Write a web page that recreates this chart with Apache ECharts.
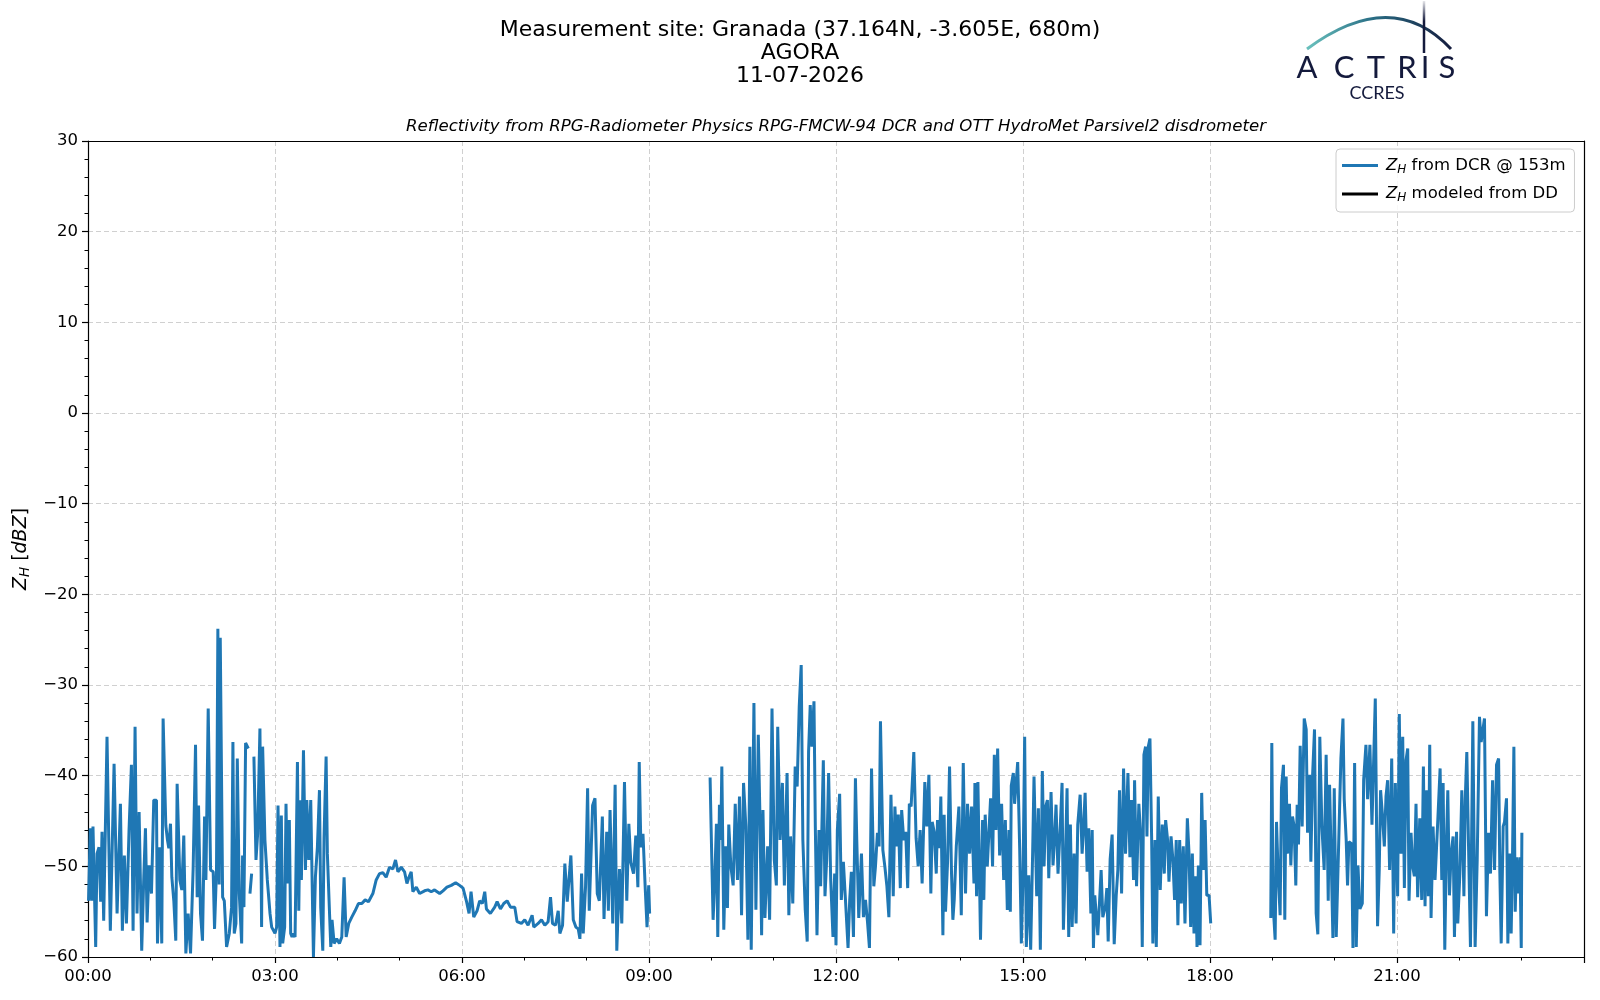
<!DOCTYPE html>
<html>
<head>
<meta charset="utf-8">
<script src="https://cdn.jsdelivr.net/npm/echarts@6/dist/echarts.min.js"></script>
<style>html,body{margin:0;padding:0;background:#fff}#c{width:1600px;height:1000px}</style>
</head>
<body>
<div id="c"></div>
<script>
// ---- Data (time in minutes after 00:00 UTC, reflectivity in dBZ) ----
const t1 = [0.5,2.2,3.5,4.8,7.4,8.7,10.6,12.2,13.5,15.1,
18.3,21.5,25.1,28.0,31.2,33.1,35.0,37.0,39.5,41.8,
43.4,45.3,47.2,49.2,51.7,53.7,55.3,56.9,58.8,61.1,
63.3,65.9,66.9,69.1,71.0,72.3,74.9,76.5,77.8,79.4,
80.7,82.6,84.5,85.8,88.4,90.3,92.2,94.2,96.4,98.7,
101.2,103.5,105.1,106.4,108.3,110.2,112.2,113.5,115.7,118.0,
120.5,121.8,123.7,125.0,126.3,127.3,129.6,131.2,133.4,136.0,
138.2,139.5,140.8,142.4,143.7,145.6,147.9,148.8,150.1,151.7,
154.3,155.0,155.9,157.5,158.5,159.7,161.7,163.3,165.5,167.1,
168.1,170.3,172.6,175.2,176.8,178.4,180.0,181.6,182.9,184.8,
186.1,187.4,189.3,190.6,191.9,193.8,195.1,196.4,197.7,199.3,
201.6,202.9,204.2,205.4,207.4,209.3,210.6,212.5,214.4,217.0,
218.9,220.8,222.8,224.0,226.0,227.2,229.2,230.4,232.4,233.7,
234.9,236.9,239.4,242.0,244.3,246.5,248.5,251.0,253.9,257.1,
260.3,263.6,266.8,270.0,274.2,277.4,280.6,283.8,287.0,290.2,
293.4,296.0,298.3,301.5,304.7,307.0,308.9,311.1,312.7,316.0,
319.2,324.0,327.2,330.4,333.6,338.5,341.7,345.5,349.7,353.9,
357.7,361.0,364.2,366.8,368.7,371.3,374.5,377.0,379.6,381.9,
383.5,387.3,391.5,393.8,397.0,400.2,403.4,406.7,410.8,413.0,
417.2,420.4,423.6,427.5,429.1,433.3,436.5,439.7,442.9,445.2,
447.1,450.0,452.6,454.2,456.8,459.0,461.3,464.8,467.1,469.6,
471.9,473.5,475.1,476.7,478.9,480.9,482.5,485.7,488.0,490.2,
492.2,495.1,496.7,499.3,500.9,502.5,505.1,507.4,509.0,511.6,
513.8,516.4,518.6,520.6,522.5,525.1,527.3,529.3,530.6,532.2,
534.2,536.4,538.1,539.7,540.6];
const z1 = [-53.8,-45.8,-53.8,-45.6,-58.9,-48.6,-47.9,-53.9,-46.2,-56.0,
-35.7,-57.1,-38.7,-55.2,-43.1,-57.1,-48.8,-56.3,-46.0,-38.8,
-57.1,-34.6,-55.2,-44.0,-59.3,-51.2,-45.8,-56.2,-49.9,-53.0,
-42.7,-42.7,-58.5,-47.9,-58.5,-33.7,-45.5,-47.1,-48.0,-45.3,
-51.2,-53.8,-58.2,-40.9,-51.5,-52.6,-46.6,-59.6,-55.2,-59.6,
-50.3,-36.6,-53.4,-43.3,-55.2,-58.2,-44.5,-51.5,-32.6,-50.4,
-50.6,-56.9,-50.4,-23.8,-52.0,-24.8,-53.4,-53.8,-58.9,-57.4,
-54.5,-36.3,-57.4,-56.3,-38.1,-53.0,-58.5,-48.8,-54.5,-36.4,
-37.0,null,-53.0,-50.8,null,-37.9,-49.3,-46.4,-34.8,-56.7,
-36.8,-47.1,-51.5,-55.2,-56.7,-56.5,-57.4,-56.7,-43.3,-58.9,
-44.4,-58.5,-56.7,-43.1,-51.9,-44.9,-57.4,-57.8,-57.4,-57.8,
-38.5,-54.9,-42.7,-51.5,-37.2,-50.4,-42.7,-49.3,-42.7,-60.0,
-51.2,-47.9,-41.6,-54.5,-59.3,-46.8,-37.9,-48.6,-54.9,-58.9,
-55.9,-58.5,-58.0,-58.5,-57.8,-51.2,-57.8,-56.3,-55.6,-54.9,
-54.1,-54.1,-53.7,-53.9,-53.0,-51.5,-50.8,-50.7,-51.2,-50.1,
-50.3,-49.3,-50.6,-50.1,-50.6,-51.9,-51.2,-50.6,-52.8,-52.3,
-53.0,-52.7,-52.6,-52.8,-52.6,-53.0,-52.7,-52.3,-52.1,-51.8,
-52.1,-52.4,-53.8,-55.2,-52.8,-55.6,-54.9,-53.8,-54.1,-52.8,
-54.7,-55.2,-54.5,-53.9,-54.7,-54.1,-53.8,-54.5,-54.5,-56.1,
-56.3,-55.9,-56.5,-55.4,-56.7,-56.3,-55.9,-56.5,-56.1,-53.4,
-56.3,-56.5,-54.9,-57.4,-56.5,-49.7,-53.9,-48.8,-55.9,-56.7,
-56.9,-58.0,-50.8,-57.4,-52.3,-41.4,-54.9,-43.3,-42.5,-53.0,
-53.8,-44.5,-55.8,-46.2,-54.9,-43.8,-56.3,-41.0,-59.3,-50.3,
-56.3,-40.7,-53.8,-45.3,-49.6,-50.8,-46.6,-52.3,-38.5,-47.9,
-46.4,-52.5,-56.7,-52.1,-55.2];

const t2 = [598.8,599.8,601.7,603.3,604.9,606.2,607.8,609.1,610.1,612.0,
613.9,615.5,616.8,618.8,621.0,623.0,625.2,627.1,629.1,631.0,
633.2,635.2,637.1,638.4,641.0,642.9,645.2,646.8,648.4,649.7,
651.6,654.2,656.1,658.4,660.6,662.6,663.9,666.2,668.4,670.3,
672.9,674.6,676.2,678.4,680.7,682.6,684.6,686.5,688.1,690.4,
692.3,693.6,695.2,696.8,698.8,700.1,701.7,703.6,705.2,707.8,
709.4,711.0,712.9,714.9,717.1,718.7,720.0,721.3,723.5,725.1,
727.1,729.3,731.6,733.2,734.8,736.8,738.7,740.0,741.9,744.5,
746.4,748.4,750.3,752.2,754.2,756.4,758.0,759.9,761.5,762.8,
765.1,767.0,769.0,770.9,772.9,775.1,776.7,778.4,780.0,781.9,
783.2,785.2,787.1,789.0,790.6,792.3,794.9,797.1,799.1,801.0,
802.9,805.5,807.4,809.4,811.3,812.6,814.5,816.5,817.7,819.6,
820.9,822.9,824.1,825.4,827.4,829.3,831.2,832.5,833.8,835.8,
838.3,840.6,842.5,844.7,846.6,848.6,850.5,852.8,853.7,855.3,
856.6,859.1,861.1,862.3,863.6,865.6,867.5,868.8,870.7,872.4,
874.0,875.6,877.5,879.4,881.4,883.0,884.9,886.5,887.8,888.7,
890.7,891.9,893.2,894.9,896.8,898.4,900.0,901.6,903.2,905.5,
907.4,909.3,910.6,913.2,914.8,916.7,918.6,920.3,921.9,923.5,
924.8,927.0,928.9,930.5,931.8,933.7,936.0,937.6,938.9,940.8,
942.4,944.0,945.6,947.3,949.2,951.1,952.7,955.0,956.9,958.2,
959.8,961.7,963.3,965.3,966.6,967.8,969.1,970.7,972.0,973.6,
975.2,976.8,979.4,980.7,982.0,983.9,985.8,987.8,989.7,991.3,
992.9,994.9,996.8,998.7,1001.0,1002.9,1004.5,1006.4,1007.4,1009.3,
1011.5,1013.5,1014.8,1016.4,1018.0,1019.3,1020.6,1022.2,1023.8,1025.0,
1027.0,1028.3,1030.2,1032.1,1034.1,1036.0,1037.3,1039.2,1040.5,1042.5,
1044.3,1045.9,1047.5,1049.1,1050.8,1052.4,1054.3,1055.9,1058.2,1059.8,
1061.4,1063.0,1064.6,1066.2,1067.5,1068.8,1070.4,1072.0,1073.6,1075.3,
1076.9,1079.1,1080.7];
const z2 = [-40.2,-45.8,-55.9,-51.5,-45.3,-57.8,-43.2,-47.1,-39.0,-57.0,
-47.8,-54.6,-45.4,-50.0,-52.1,-43.1,-51.5,-42.3,-55.4,-40.8,
-45.6,-58.1,-36.8,-59.2,-32.0,-54.8,-35.5,-44.5,-57.6,-43.8,
-55.7,-47.8,-55.9,-32.6,-49.3,-52.1,-34.6,-47.1,-40.8,-52.1,
-39.7,-55.4,-46.7,-54.1,-39.0,-41.2,-32.4,-27.8,-47.1,-54.8,
-58.3,-37.4,-32.2,-36.8,-31.8,-45.6,-57.6,-46.0,-52.2,-38.3,
-53.3,-49.3,-39.7,-51.5,-57.8,-50.8,-58.7,-46.0,-42.0,-53.7,
-49.5,-54.1,-59.0,-53.7,-50.6,-57.8,-40.3,-47.1,-55.7,-48.6,
-55.6,-53.7,-56.1,-59.0,-39.2,-52.2,-50.0,-46.3,-47.8,-34.0,
-48.2,-50.0,-52.2,-55.6,-42.1,-53.3,-43.4,-47.8,-44.3,-52.4,
-43.8,-47.1,-46.2,-52.4,-43.1,-43.4,-37.4,-46.9,-50.0,-46.0,
-51.9,-40.7,-45.6,-39.9,-53.0,-45.1,-46.2,-50.8,-44.9,-48.0,
-42.3,-57.6,-44.3,-55.0,-49.5,-39.0,-50.8,-55.9,-53.7,-47.8,
-43.4,-55.4,-38.6,-53.0,-43.1,-48.6,-43.4,-51.9,-40.8,-53.3,
-40.7,-58.1,-44.9,-53.7,-44.3,-50.0,-50.0,-42.5,-50.0,-37.7,
-46.0,-37.0,-48.8,-43.1,-51.5,-44.9,-54.8,-46.0,-55.0,-41.1,
-39.7,-43.1,-41.1,-38.5,-48.0,-58.5,-51.5,-35.7,-58.9,-51.0,
-59.2,-48.4,-40.1,-53.3,-43.6,-59.2,-39.5,-50.0,-43.4,-42.7,
-51.3,-41.8,-49.9,-46.7,-43.2,-50.8,-45.3,-40.8,-57.0,-49.3,
-41.4,-57.8,-45.4,-56.7,-48.6,-56.3,-45.4,-42.1,-48.6,-46.0,
-41.9,-50.6,-45.8,-55.2,-46.0,-59.0,-53.2,-55.6,-57.6,-54.1,
-50.4,-55.6,-54.4,-52.4,-58.3,-49.2,-46.5,-58.6,-53.3,-50.4,
-41.6,-53.0,-39.2,-48.6,-39.7,-49.0,-42.7,-51.5,-40.5,-52.2,
-43.1,-47.1,-58.9,-37.7,-36.8,-46.7,-36.8,-35.9,-46.7,-58.5,
-47.1,-58.9,-42.3,-52.6,-45.4,-50.8,-44.9,-47.1,-51.7,-46.7,
-49.3,-53.7,-47.1,-56.5,-47.1,-54.1,-47.8,-56.3,-44.7,-48.6,
-56.7,-48.6,-57.4,-51.1,-58.9,-49.9,-58.7,-41.9,-50.4,-44.9,
-53.2,-53.2,-56.3];

const t3 = [1138.5,1139.5,1140.7,1142.7,1144.0,1145.6,1147.5,1148.8,1150.7,1152.0,
1153.3,1154.6,1156.5,1157.8,1159.4,1161.0,1162.6,1163.9,1165.2,1166.8,
1168.7,1170.7,1172.6,1173.9,1175.8,1177.1,1178.7,1180.6,1182.2,1183.8,
1185.7,1187.7,1189.9,1191.8,1193.8,1195.1,1196.4,1198.3,1199.6,1201.5,
1202.8,1204.4,1206.0,1208.0,1209.2,1211.1,1212.4,1213.7,1216.3,1217.6,
1219.2,1220.8,1222.4,1224.3,1226.6,1227.9,1230.1,1231.7,1233.9,1235.9,
1237.5,1239.1,1241.3,1242.9,1244.2,1245.9,1247.8,1249.4,1251.0,1252.9,
1254.9,1256.8,1258.4,1260.6,1262.2,1263.9,1265.5,1267.1,1268.7,1270.3,
1271.6,1273.5,1275.1,1276.7,1278.3,1279.9,1281.9,1283.8,1285.4,1287.0,
1288.6,1290.2,1291.5,1292.8,1294.7,1296.6,1299.2,1301.5,1303.1,1304.4,
1306.0,1307.6,1308.9,1310.5,1312.1,1314.0,1315.3,1317.3,1318.5,1320.5,
1322.4,1324.4,1325.7,1327.2,1328.8,1330.7,1333.0,1335.2,1337.2,1339.4,
1341.0,1342.9,1344.2,1346.1,1348.1,1350.0,1352.0,1353.9,1355.8,1357.8,
1359.0,1360.3,1362.2,1363.5,1365.4,1366.7,1368.3,1369.9,1371.2,1372.5,
1373.8,1375.1,1376.4,1378.3,1379.6,1380.2];
const z3 = [-55.7,-36.4,-54.1,-58.1,-45.1,-50.8,-55.4,-41.4,-38.8,-55.9,
-40.1,-48.6,-43.1,-49.9,-44.5,-45.6,-52.1,-43.2,-47.6,-36.7,
-45.6,-33.7,-34.9,-46.3,-39.9,-49.5,-40.1,-34.9,-55.2,-57.5,
-35.7,-45.6,-50.4,-37.7,-53.8,-41.0,-47.8,-57.9,-41.4,-57.8,
-52.2,-45.1,-38.1,-33.7,-42.6,-47.1,-52.1,-47.3,-47.5,-59.0,
-38.6,-58.9,-49.9,-54.7,-54.1,-40.5,-36.6,-42.6,-36.6,-45.4,
-45.4,-31.5,-56.6,-50.4,-41.6,-44.2,-47.8,-42.3,-40.5,-50.4,
-38.1,-57.4,-40.8,-53.3,-33.2,-48.6,-35.7,-52.4,-38.3,-37.0,
-53.8,-46.3,-50.0,-51.1,-43.1,-53.4,-44.7,-53.7,-39.0,-54.4,
-41.6,-53.3,-36.6,-55.7,-45.6,-51.5,-45.1,-39.2,-51.5,-40.8,
-59.2,-47.5,-41.6,-53.2,-48.6,-46.7,-57.8,-46.2,-56.3,-50.8,
-41.6,-53.3,-42.6,-37.4,-47.4,-58.9,-34.0,-58.9,-49.3,-33.5,
-36.3,-36.3,-33.7,-55.5,-46.3,-50.8,-40.5,-50.4,-38.8,-38.1,
-50.8,-58.5,-45.6,-45.1,-42.5,-58.5,-48.6,-57.4,-48.8,-36.8,
-55.0,-49.0,-53.0,-49.0,-59.0,-46.3];

const xTickLabels = ['00:00','03:00','06:00','09:00','12:00','15:00','18:00','21:00'];
const yTicks = [-60,-50,-40,-30,-20,-10,0,10,20,30];
const titleLines = ['Measurement site: Granada (37.164N, -3.605E, 680m)', 'AGORA', '11-07-2026'];
const subTitle = 'Reflectivity from RPG-Radiometer Physics RPG-FMCW-94 DCR and OTT HydroMet Parsivel2 disdrometer';
const seriesNames = ['ZH from DCR @ 153m', 'ZH modeled from DD'];

// ---- build series data ----
function seg(t, z) { return t.map((v, i) => [v, z[i] === null ? '-' : z[i]]); }
const dcrData = [].concat(seg(t1, z1), [[570, '-']], seg(t2, z2), [[1110, '-']], seg(t3, z3));

const FONT = 'DejaVu Sans';
const chart = echarts.init(document.getElementById('c'), null, {renderer: 'canvas'});
const legendRich = {
  i: {fontFamily: FONT, fontStyle: 'italic', fontSize: 16.5, color: '#000'},
  s: {fontFamily: FONT, fontStyle: 'italic', fontSize: 12, color: '#000', padding: [8, 0, 0, 0]},
  n: {fontFamily: FONT, fontSize: 16.5, color: '#000'}
};
const xMin = 0, xMax = 1440;
const yMin = yTicks[0], yMax = yTicks[yTicks.length - 1];
const spine = {show: true, onZero: false, lineStyle: {color: '#000', width: 1.2}};
chart.setOption({
  animation: false,
  backgroundColor: '#fff',
  grid: {left: 88, right: 16, top: 141, bottom: 43},
  xAxis: [{
    type: 'value', min: xMin, max: xMax, interval: 180,
    axisLine: spine,
    axisTick: {show: true, length: 6, lineStyle: {color: '#000', width: 1.2}},
    minorTick: {show: true, splitNumber: 3, length: 3.5, lineStyle: {color: '#000', width: 1}},
    axisLabel: {
      margin: 11, color: '#000', fontFamily: FONT, fontSize: 16.5,
      formatter: v => { const i = Math.round(v / 180); return i < xTickLabels.length ? xTickLabels[i] : ''; }
    },
    splitLine: {show: true, lineStyle: {color: '#d0d0d0', type: [5, 3], width: 1}}
  }, {
    type: 'value', position: 'top', min: xMin, max: xMax, interval: 180,
    axisLine: spine, axisTick: {show: false}, axisLabel: {show: false}, splitLine: {show: false}
  }],
  yAxis: [{
    type: 'value', min: yMin, max: yMax, interval: 10,
    name: '{i|Z}{s|H}{n| [}{i|dBZ}{n|]}',
    nameLocation: 'middle', nameRotate: 90, nameGap: 50,
    nameTextStyle: {
      rich: {
        i: {fontFamily: FONT, fontStyle: 'italic', fontSize: 19, color: '#000'},
        s: {fontFamily: FONT, fontStyle: 'italic', fontSize: 13.5, color: '#000', padding: [9, 0, 0, 0]},
        n: {fontFamily: FONT, fontSize: 19, color: '#000'}
      }
    },
    axisLine: spine,
    axisTick: {show: true, length: 6, lineStyle: {color: '#000', width: 1.2}},
    minorTick: {show: true, splitNumber: 5, length: 3.5, lineStyle: {color: '#000', width: 1}},
    axisLabel: {margin: 10, color: '#000', fontFamily: FONT, fontSize: 16.5,
      formatter: v => String(v).replace('-', '\u2212')},
    splitLine: {show: true, lineStyle: {color: '#d0d0d0', type: [5, 3], width: 1}}
  }, {
    type: 'value', position: 'right', min: yMin, max: yMax, interval: 10,
    axisLine: spine, axisTick: {show: false}, axisLabel: {show: false}, splitLine: {show: false}
  }],
  legend: {
    orient: 'vertical', left: 1336, top: 149,
    backgroundColor: 'rgba(255,255,255,0.85)', borderColor: '#cccccc', borderWidth: 1, borderRadius: 4,
    padding: [8, 9, 8, 6], itemGap: 10, itemWidth: 36, itemHeight: 3, icon: 'rect',
    data: seriesNames,
    formatter: name => name === seriesNames[0] ? '{i|Z}{s|H}{n| from DCR @ 153m}' : '{i|Z}{s|H}{n| modeled from DD}',
    textStyle: {rich: legendRich, padding: [0, 0, 0, 3]}
  },
  series: [
    {name: seriesNames[0], type: 'line', data: dcrData, showSymbol: false, connectNulls: false,
     lineStyle: {color: '#1f77b4', width: 3}, itemStyle: {color: '#1f77b4'}, clip: true},
    {name: seriesNames[1], type: 'line', data: [], showSymbol: false,
     lineStyle: {color: '#000', width: 3}, itemStyle: {color: '#000'}}
  ],
  graphic: [
    {type: 'text', x: 800, y: 30, style: {text: titleLines[0], font: '22px "DejaVu Sans"', fill: '#000', textAlign: 'center', textVerticalAlign: 'middle'}},
    {type: 'text', x: 800, y: 53, style: {text: titleLines[1], font: '22px "DejaVu Sans"', fill: '#000', textAlign: 'center', textVerticalAlign: 'middle'}},
    {type: 'text', x: 800, y: 76, style: {text: titleLines[2], font: '22px "DejaVu Sans"', fill: '#000', textAlign: 'center', textVerticalAlign: 'middle'}},
    {type: 'text', x: 836, y: 127, style: {text: subTitle, font: 'italic 16.6px "DejaVu Sans"', fill: '#000', textAlign: 'center', textVerticalAlign: 'middle'}},
    // ACTRIS logo
    {type: 'bezierCurve', shape: {x1: 1307, y1: 49, x2: 1451, y2: 49, cpx1: 1392, cpy1: -14},
     style: {fill: null, lineWidth: 3, stroke: new echarts.graphic.LinearGradient(0, 0, 1, 0, [{offset: 0, color: '#6cc4bf'}, {offset: 0.45, color: '#2a6f86'}, {offset: 1, color: '#141a3c'}], false)}},
    {type: 'line', shape: {x1: 1424, y1: 1, x2: 1424, y2: 53},
     style: {lineWidth: 2.5, stroke: new echarts.graphic.LinearGradient(0, 0, 0, 1, [{offset: 0, color: 'rgba(20,26,60,0)'}, {offset: 0.4, color: '#141a3c'}, {offset: 1, color: '#141a3c'}], false)}},
    ...[['A', 1307], ['C', 1344], ['T', 1376], ['R', 1407], ['I', 1425], ['S', 1447]].map(p => ({
      type: 'text', x: p[1], y: 68, style: {text: p[0], font: '31px Lato', fill: '#141a3c', textAlign: 'center', textVerticalAlign: 'middle'}
    })),
    {type: 'text', x: 1377, y: 93, style: {text: 'CCRES', font: '18px Lato', fill: '#141a3c', textAlign: 'center', textVerticalAlign: 'middle'}}
  ]
});
</script>
</body>
</html>
